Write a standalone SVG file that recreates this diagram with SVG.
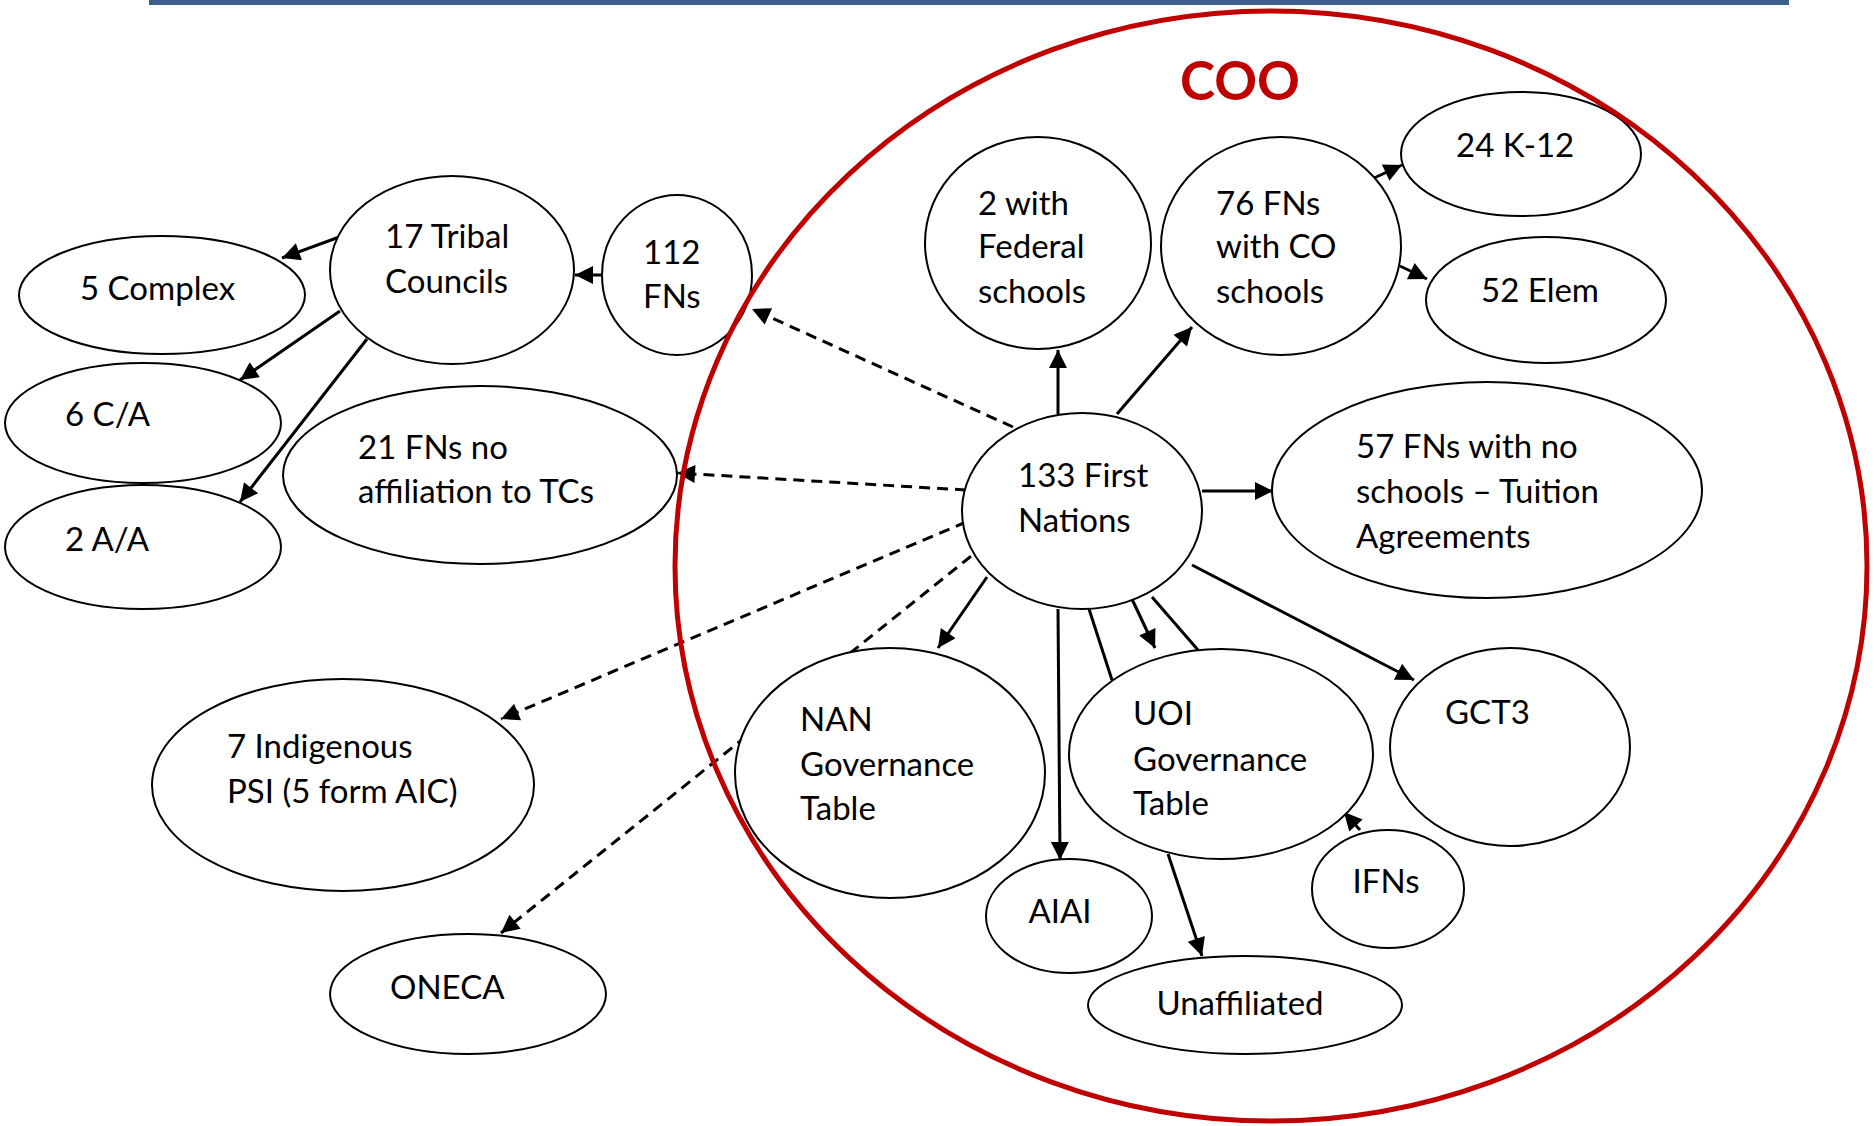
<svg xmlns="http://www.w3.org/2000/svg" width="1874" height="1126" viewBox="0 0 1874 1126">
<defs>
<marker id="ah" viewBox="0 0 10 10" refX="10" refY="5" markerWidth="22" markerHeight="18" markerUnits="userSpaceOnUse" orient="auto"><path d="M0,0 L10,5 L0,10 z" fill="#000"/></marker>
<style>
.n{fill:#fff;stroke:#000;stroke-width:2}
.t{font-family:Lato,"Liberation Sans",sans-serif;font-size:33px;fill:#000}
.c{stroke:#000;stroke-width:3;fill:none}
.a{marker-end:url(#ah)}
.d{stroke-dasharray:11 7}
</style>
</defs>
<rect x="149" y="0" width="1640" height="5" fill="#3b5e8e"/>
<g id="connectors">
<path class="c a" d="M601,275 L575,275"/>
<path class="c a" d="M342,236 L282,258"/>
<path class="c a" d="M340,311 L240,380"/>
<path class="c a" d="M367,339 L240,502"/>
<path class="c a d" d="M1013,427 L752,309"/>
<path class="c a d" d="M966,490 L677,473"/>
<path class="c a d" d="M966,522 L501,719"/>
<path class="c a d" d="M985,545 L501,933"/>
<path class="c a" d="M1058,414 L1058,350"/>
<path class="c a" d="M1117,414 L1192,327"/>
<path class="c a" d="M1372,179 L1402,165"/>
<path class="c a" d="M1400,266 L1427,279"/>
<path class="c a" d="M1202,491 L1273,491"/>
<path class="c a" d="M987,577 L938,648"/>
<path class="c a" d="M1058,609 L1060,860"/>
<path class="c" d="M1089,609 L1112,680"/>
<path class="c a" d="M1131,597 L1155,648"/>
<path class="c" d="M1152,597 L1198,650"/>
<path class="c a" d="M1192,565 L1414,680"/>
<path class="c a" d="M1360,830 L1344,812"/>
<path class="c a" d="M1168,854 L1202,956"/>
</g>
<g id="n-5complex"><ellipse class="n" cx="162" cy="295" rx="143" ry="59"/><text class="t" x="80" y="300">5 Complex</text></g>
<g id="n-17tc"><ellipse class="n" cx="452" cy="270" rx="122" ry="94"/><text class="t" x="385" y="248">17 Tribal</text><text class="t" x="385" y="293">Councils</text></g>
<g id="n-112"><ellipse class="n" cx="677" cy="275" rx="75" ry="80"/><text class="t" x="643" y="264">112</text><text class="t" x="643" y="308">FNs</text></g>
<g id="n-6ca"><ellipse class="n" cx="143" cy="423" rx="138" ry="60"/><text class="t" x="65" y="426">6 C/A</text></g>
<g id="n-2aa"><ellipse class="n" cx="143" cy="547" rx="138" ry="62"/><text class="t" x="65" y="551">2 A/A</text></g>
<g id="n-21fns"><ellipse class="n" cx="480" cy="475" rx="197" ry="89"/><text class="t" x="358" y="459">21 FNs no</text><text class="t" x="358" y="503">affiliation to TCs</text></g>
<g id="n-7psi"><ellipse class="n" cx="343" cy="785" rx="191" ry="106"/><text class="t" x="227" y="758">7 Indigenous</text><text class="t" x="227" y="803">PSI (5 form AIC)</text></g>
<g id="n-oneca"><ellipse class="n" cx="468" cy="994" rx="138" ry="60"/><text class="t" x="390" y="999">ONECA</text></g>
<g id="n-federal"><ellipse class="n" cx="1038" cy="243" rx="113" ry="106"/><text class="t" x="978" y="215">2 with</text><text class="t" x="978" y="258">Federal</text><text class="t" x="978" y="303">schools</text></g>
<g id="n-76fns"><ellipse class="n" cx="1281" cy="246" rx="120" ry="109"/><text class="t" x="1216" y="215">76 FNs</text><text class="t" x="1216" y="258">with CO</text><text class="t" x="1216" y="303">schools</text></g>
<g id="n-k12"><ellipse class="n" cx="1521" cy="154" rx="120" ry="62"/><text class="t" x="1456" y="157">24 K-12</text></g>
<g id="n-elem"><ellipse class="n" cx="1546" cy="300" rx="120" ry="63"/><text class="t" x="1481" y="302">52 Elem</text></g>
<g id="n-133"><ellipse class="n" cx="1082" cy="511" rx="120" ry="98"/><text class="t" x="1018" y="487">133 First</text><text class="t" x="1018" y="532">Nations</text></g>
<g id="n-57fns"><ellipse class="n" cx="1487" cy="490" rx="215" ry="108"/><text class="t" x="1356" y="458">57 FNs with no</text><text class="t" x="1356" y="503">schools – Tuition</text><text class="t" x="1356" y="548">Agreements</text></g>
<g id="n-nan"><ellipse class="n" cx="890" cy="773" rx="155" ry="125"/><text class="t" x="800" y="731">NAN</text><text class="t" x="800" y="776">Governance</text><text class="t" x="800" y="820">Table</text></g>
<g id="n-uoi"><ellipse class="n" cx="1221" cy="754" rx="152" ry="105"/><text class="t" x="1133" y="725">UOI</text><text class="t" x="1133" y="771">Governance</text><text class="t" x="1133" y="815">Table</text></g>
<g id="n-gct3"><ellipse class="n" cx="1510" cy="747" rx="120" ry="99"/><text class="t" x="1445" y="724">GCT3</text></g>
<g id="n-aiai"><ellipse class="n" cx="1069" cy="916" rx="83" ry="57"/><text class="t" x="1060" y="923" text-anchor="middle">AIAI</text></g>
<g id="n-ifns"><ellipse class="n" cx="1388" cy="889" rx="76" ry="59"/><text class="t" x="1386" y="893" text-anchor="middle">IFNs</text></g>
<g id="n-unaff"><ellipse class="n" cx="1245" cy="1005" rx="157" ry="49"/><text class="t" x="1240" y="1015" text-anchor="middle">Unaffiliated</text></g>
<g id="coo"><ellipse cx="1271" cy="566" rx="596" ry="555" fill="none" stroke="#c00000" stroke-width="5"/><text x="1240" y="100" text-anchor="middle" font-family="Lato,'Liberation Sans',sans-serif" font-weight="bold" font-size="53" fill="#c00000">COO</text></g>
</svg>
